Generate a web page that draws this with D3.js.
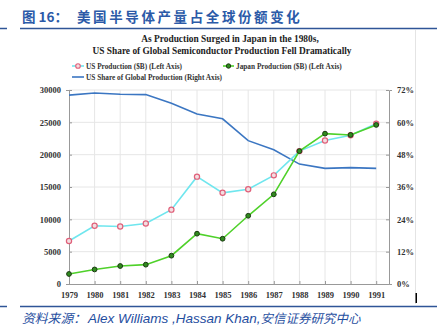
<!DOCTYPE html>
<html><head><meta charset="utf-8">
<script src="https://cdn.jsdelivr.net/npm/d3@7"></script>
<style>
body{margin:0;background:#fff;}
svg{display:block;}
</style></head>
<body>
<svg id="c" width="440" height="335"></svg>
<script>
const years = [1979,1980,1981,1982,1983,1984,1985,1986,1987,1988,1989,1990,1991];
const usProduction = [6650,9000,8900,9350,11500,16600,14100,14650,16800,20550,22200,23000,24800];
const japanProduction = [1550,2250,2780,2990,4380,7780,7000,10550,13870,20550,23250,23050,24600];
const usShare = [70.1,70.9,70.4,70.3,67.1,63.1,61.3,53.2,49.8,44.5,42.9,43.2,42.9];
const leftTicks = [0,5000,10000,15000,20000,25000,30000];
const rightTicks = [0,12,24,36,48,60,72];

const svg = d3.select("#c");
const serif = "'Liberation Serif','DejaVu Serif',serif";

// page title
const pt = svg.append("text").attr("x",22).attr("y",22)
  .attr("font-family","'Noto Sans CJK SC','Liberation Sans',sans-serif")
  .attr("font-weight","bold").attr("font-size",13.5).attr("fill","#2b5aa8");
pt.append("tspan").text("图 16：");
pt.append("tspan").attr("x",77).attr("letter-spacing",2.6).text("美国半导体产量占全球份额变化");
svg.append("line").attr("x1",0).attr("x2",7).attr("y1",28.5).attr("y2",28.5).attr("stroke","#2f5597").attr("stroke-width",1.5);
svg.append("line").attr("x1",20).attr("x2",437).attr("y1",28.5).attr("y2",28.5).attr("stroke","#2f5597").attr("stroke-width",1.5);

// image border
svg.append("line").attr("x1",415.5).attr("x2",415.5).attr("y1",30).attr("y2",304).attr("stroke","#e4e4e4");
svg.append("rect").attr("x",415.5).attr("y",293).attr("width",1.5).attr("height",10).attr("fill","#000");

// chart title
const t = svg.append("text").attr("text-anchor","middle").attr("font-family",serif)
  .attr("font-weight","bold").attr("font-size",9.4).attr("fill","#222");
t.append("tspan").attr("x",230).attr("y",42).text("As Production Surged in Japan in the 1980s,");
t.append("tspan").attr("x",222).attr("y",53.5).text("US Share of  Global Semiconductor Production Fell Dramatically");

const x = d3.scaleLinear().domain([1979,1991.5]).range([69,389]);
const yL = d3.scaleLinear().domain([0,30000]).range([284,90]);
const yR = d3.scaleLinear().domain([0,72]).range([284,90]);

// gridlines
const g = svg.append("g");
g.selectAll(".vg").data(years.slice(1)).join("line")
  .attr("x1",d=>x(d)).attr("x2",d=>x(d)).attr("y1",90).attr("y2",284)
  .attr("stroke","#e6e6e6").attr("stroke-width",1);
g.selectAll(".hg").data(leftTicks.slice(1)).join("line")
  .attr("x1",69).attr("x2",389).attr("y1",d=>yL(d)).attr("y2",d=>yL(d))
  .attr("stroke","#e6e6e6").attr("stroke-width",1);

// axes
const axB = svg.append("g").attr("transform","translate(0,284)")
  .call(d3.axisBottom(x).tickValues(years).tickFormat(d3.format("d")).tickSize(-3).tickPadding(8));
const axL = svg.append("g").attr("transform","translate(69,0)")
  .call(d3.axisLeft(yL).tickValues(leftTicks).tickFormat(d3.format("d")).tickSize(3).tickPadding(5));
const axR = svg.append("g").attr("transform","translate(389,0)")
  .call(d3.axisRight(yR).tickValues(rightTicks).tickFormat(d=>d+"%").tickSize(3).tickPadding(5));
[axB,axL,axR].forEach(a=>{
  a.select(".domain").attr("stroke","#999");
  a.selectAll(".tick line").attr("stroke","#999");
  a.selectAll("text").attr("font-family",serif).attr("font-weight","bold").attr("font-size",8.5).attr("fill","#333");
});
axL.selectAll(".tick line").attr("x2",3);
axR.selectAll(".tick line").attr("x2",-3);

// US share line
svg.append("path").datum(years.map((y,i)=>[y,usShare[i]]))
  .attr("fill","none").attr("stroke","#3b76c2").attr("stroke-width",1.6)
  .attr("d",d3.line().x(d=>x(d[0])).y(d=>yR(d[1])));

// US production
svg.append("path").datum(years.map((y,i)=>[y,usProduction[i]]))
  .attr("fill","none").attr("stroke","#6fe6ee").attr("stroke-width",1.6)
  .attr("d",d3.line().x(d=>x(d[0])).y(d=>yL(d[1])));
svg.selectAll(".usm").data(years.map((y,i)=>[y,usProduction[i]])).join("circle")
  .attr("cx",d=>x(d[0])).attr("cy",d=>yL(d[1])).attr("r",2.6)
  .attr("fill","#f3dde0").attr("stroke","#e0607a").attr("stroke-width",1.2);

// Japan production
svg.append("path").datum(years.map((y,i)=>[y,japanProduction[i]]))
  .attr("fill","none").attr("stroke","#4fd12a").attr("stroke-width",1.6)
  .attr("d",d3.line().x(d=>x(d[0])).y(d=>yL(d[1])));
svg.selectAll(".jpm").data(years.map((y,i)=>[y,japanProduction[i]])).join("circle")
  .attr("cx",d=>x(d[0])).attr("cy",d=>yL(d[1])).attr("r",2.4)
  .attr("fill","#2f8a1e").attr("stroke","#1b3a12").attr("stroke-width",1);

// legend
const leg = svg.append("g").attr("font-family",serif).attr("font-weight","bold").attr("font-size",7.3).attr("fill","#333");
leg.append("line").attr("x1",72).attr("x2",84).attr("y1",66).attr("y2",66).attr("stroke","#6fe6ee").attr("stroke-width",1.6);
leg.append("circle").attr("cx",78).attr("cy",66).attr("r",2.3).attr("fill","#f3dde0").attr("stroke","#e0607a").attr("stroke-width",1.1);
leg.append("text").attr("x",86).attr("y",68.6).text("US Production ($B) (Left Axis)");
leg.append("line").attr("x1",223).attr("x2",234).attr("y1",66).attr("y2",66).attr("stroke","#4fd12a").attr("stroke-width",1.6);
leg.append("circle").attr("cx",228.5).attr("cy",66).attr("r",2.2).attr("fill","#2f8a1e").attr("stroke","#1b3a12").attr("stroke-width",1);
leg.append("text").attr("x",236).attr("y",68.6).text("Japan Production ($B) (Left Axis)");
leg.append("line").attr("x1",72).attr("x2",84).attr("y1",77).attr("y2",77).attr("stroke","#3b76c2").attr("stroke-width",1.6);
leg.append("text").attr("x",86).attr("y",79.6).text("US Share of Global Production (Right Axis)");

// bottom rule and source
svg.append("line").attr("x1",0).attr("x2",7).attr("y1",306.5).attr("y2",306.5).attr("stroke","#2f5597").attr("stroke-width",1.5);
svg.append("line").attr("x1",20).attr("x2",437).attr("y1",306.5).attr("y2",306.5).attr("stroke","#2f5597").attr("stroke-width",1.5);
const src = svg.append("text").attr("x",22).attr("y",323).attr("font-style","italic")
  .attr("font-size",13.5).attr("fill","#1f4ea0");
src.append("tspan").attr("font-family","'Noto Sans CJK SC',sans-serif").attr("font-size",12.8).text("资料来源：");
src.append("tspan").attr("x",88).attr("font-family","'Liberation Sans',Arial,sans-serif").text("Alex Williams ,Hassan Khan,");
src.append("tspan").attr("font-family","'Noto Sans CJK SC',sans-serif").attr("font-size",12.5).text("安信证券研究中心");
</script>
</body></html>
